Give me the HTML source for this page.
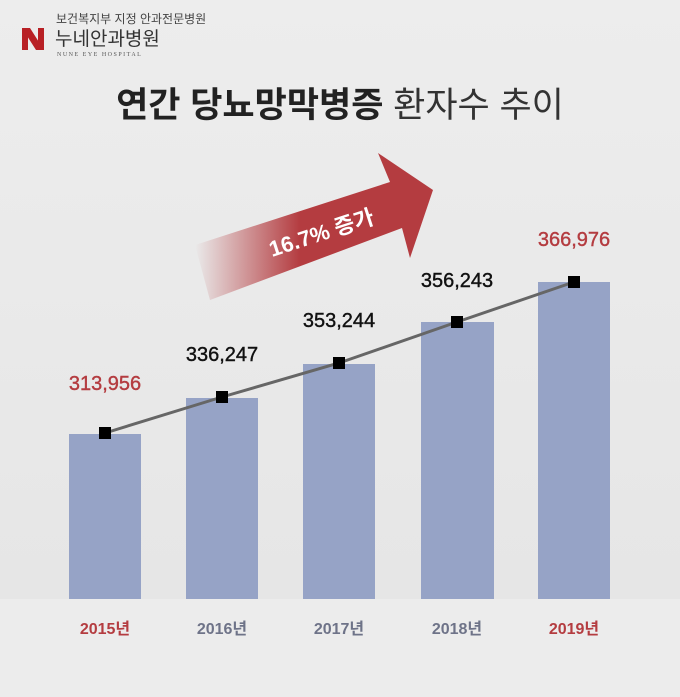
<!DOCTYPE html><html><head><meta charset="utf-8"><style>
body{margin:0;width:680px;height:697px;background:#ececec;overflow:hidden;font-family:"Liberation Sans","Noto Sans CJK KR",sans-serif}
</style></head><body>
<svg width="680" height="697" xmlns="http://www.w3.org/2000/svg" style="display:block">
<defs>
<linearGradient id="g" x1="195" y1="0" x2="300" y2="0" gradientUnits="userSpaceOnUse">
<stop offset="0" stop-color="#b43c40" stop-opacity="0"/><stop offset="1" stop-color="#b43c40"/></linearGradient>
<linearGradient id="bg" x1="0" y1="0" x2="0" y2="1"><stop offset="0" stop-color="#ededed"/><stop offset="1" stop-color="#e6e6e6"/></linearGradient>
</defs>
<rect width="680" height="600" fill="url(#bg)"/>
<rect y="599" width="680" height="98" fill="#ececec"/>
<rect x="22" y="28" width="6" height="22" fill="#b82025"/><rect x="38" y="28" width="6" height="22" fill="#b82025"/>
<polygon points="22,28 30,28 44,50 36,50" fill="#b82025"/>
<text x="56" y="23" font-size="12" fill="#444">보건복지부 지정 안과전문병원</text>
<text x="55" y="45" font-size="19" fill="#333">누네안과병원</text>
<text x="57" y="56" font-size="6" fill="#555" font-family="Liberation Serif,serif" letter-spacing="1.5">NUNE EYE HOSPITAL</text>
<text x="340" y="117" font-size="35" text-anchor="middle" fill="#222"><tspan font-weight="bold">연간 당뇨망막병증</tspan> <tspan fill="#333">환자수 추이</tspan></text>
<polygon points="195,245 390,182 378,153 433,190 410,258 402,228 210,300" fill="url(#g)"/>
<text x="0" y="0" font-size="22" font-weight="bold" fill="#fff" transform="translate(272,257) rotate(-18)">16.7% 증가</text>
<g fill="#96a3c6">
<rect x="69" y="434" width="72" height="165"/><rect x="186" y="398" width="72" height="201"/>
<rect x="303" y="364" width="72" height="235"/><rect x="421" y="322" width="73" height="277"/>
<rect x="538" y="282" width="72" height="317"/></g>
<polyline points="105,433 222,397 339,363 457,322 574,282" fill="none" stroke="#666" stroke-width="3"/>
<g fill="#000"><rect x="99" y="427" width="12" height="12"/><rect x="216" y="391" width="12" height="12"/><rect x="333" y="357" width="12" height="12"/><rect x="451" y="316" width="12" height="12"/><rect x="568" y="276" width="12" height="12"/></g>
<g font-size="20" text-anchor="middle" stroke-width="0.4">
<text x="105" y="390" fill="#b43c40" stroke="#b43c40">313,956</text>
<text x="222" y="361" fill="#111" stroke="#111">336,247</text>
<text x="339" y="327" fill="#111" stroke="#111">353,244</text>
<text x="457" y="287" fill="#111" stroke="#111">356,243</text>
<text x="574" y="246" fill="#b43c40" stroke="#b43c40">366,976</text>
</g>
<g font-size="16" font-weight="bold" text-anchor="middle">
<text x="105" y="634" fill="#b43c40">2015년</text>
<text x="222" y="634" fill="#6e7388">2016년</text>
<text x="339" y="634" fill="#6e7388">2017년</text>
<text x="457" y="634" fill="#6e7388">2018년</text>
<text x="574" y="634" fill="#b43c40">2019년</text>
</g>
</svg></body></html>
